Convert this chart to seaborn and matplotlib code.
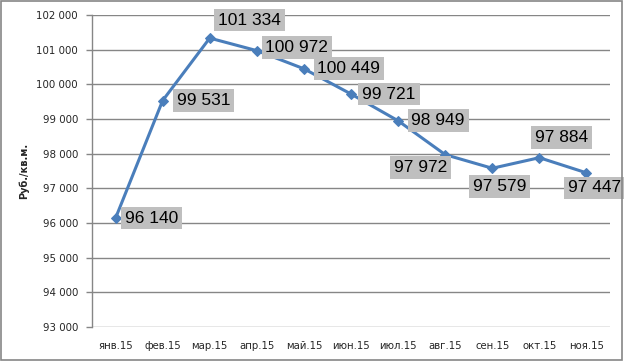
import pandas as pd
import seaborn as sns
import matplotlib.pyplot as plt
from matplotlib.patches import Rectangle

months = ['янв.15', 'фев.15', 'мар.15', 'апр.15', 'май.15', 'июн.15',
          'июл.15', 'авг.15', 'сен.15', 'окт.15', 'ноя.15']
prices = [96140, 99531, 101334, 100972, 100449, 99721, 98949, 97972, 97579, 97884, 97447]
y_ticks = [93000, 94000, 95000, 96000, 97000, 98000, 99000, 100000, 101000, 102000]
y_label = 'Руб./кв.м.'

# where each value label sits relative to its point (pixels, x right / y up)
label_offsets = [(36, 0), (41, 0), (40, 18), (40, 3), (45, 0), (38, 0),
                 (40, 0), (-25, -13), (7, -18), (22, 20), (8, -15)]

df = pd.DataFrame({'pos': range(len(months)), 'month': months, 'price': prices})

sns.set_style('white')
plt.rcParams['font.family'] = ['DejaVu Sans']

fig = plt.figure(figsize=(6.24, 3.61), dpi=100)
ax = fig.add_axes([92 / 624, 34 / 361, 518 / 624, 312 / 361])

sns.lineplot(data=df, x='pos', y='price', ax=ax, color='#4A7EBB', linewidth=2.2,
             marker='D', markersize=5, markeredgecolor='#4A7EBB', sort=False)

for i, v in enumerate(prices):
    label = f'{v:,}'.replace(',', ' ')
    dx, dy = label_offsets[i]
    ax.annotate(label, (i, v), xytext=(dx, dy), textcoords='offset pixels',
                ha='center', va='center', fontsize=12.5, family='Liberation Sans',
                color='black',
                bbox=dict(boxstyle='square,pad=0.22', facecolor='#BFBFBF', edgecolor='none'))

ax.set_xlim(-0.5, len(months) - 0.5)
ax.set_ylim(93000, 102000)
ax.set_xticks(range(len(months)))
ax.set_xticklabels(months, fontsize=7.3)
ax.set_yticks(y_ticks)
ax.set_yticklabels([f'{t:,}'.replace(',', ' ') for t in y_ticks], fontsize=7.4)
ax.tick_params(axis='x', length=0, pad=10)
ax.tick_params(axis='y', length=4, width=1, color='#868686', pad=6, left=True)
ax.yaxis.grid(True, color='#868686', linewidth=1)
ax.set_axisbelow(True)
ax.set_xlabel('')
ax.set_ylabel(y_label, fontsize=7, fontweight='bold', labelpad=5)

for side in ['top', 'right', 'bottom']:
    ax.spines[side].set_visible(False)
ax.spines['left'].set_color('#868686')
ax.spines['left'].set_linewidth(1)

fig.patches.append(Rectangle((0.002, 0.003), 0.995, 0.993, transform=fig.transFigure,
                             fill=False, edgecolor='#868686', linewidth=1.2))

fig.savefig('out.png', dpi=100)
